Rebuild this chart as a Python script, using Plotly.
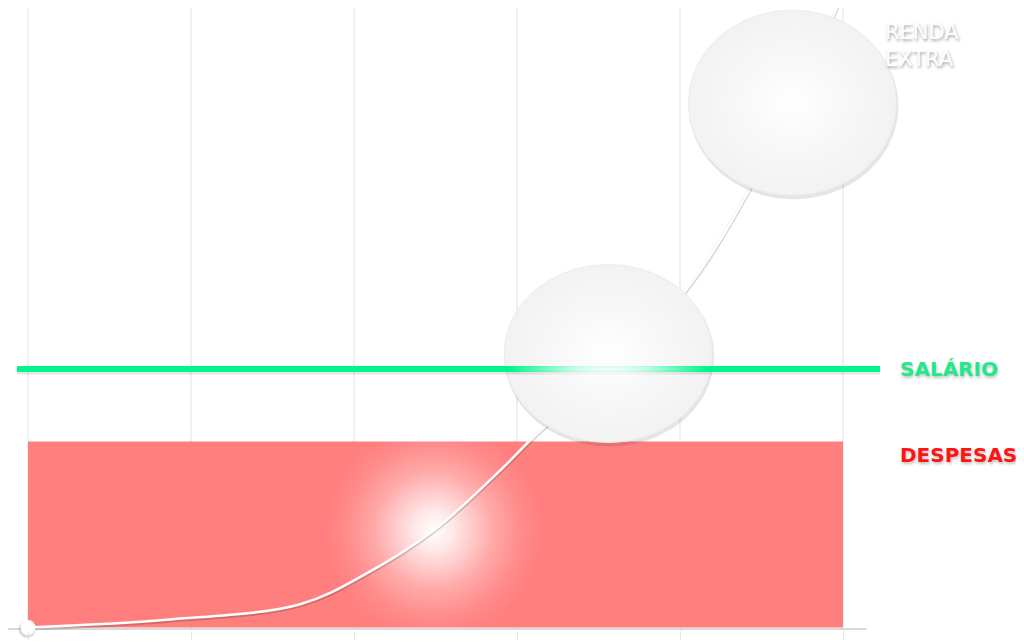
import numpy as np
import plotly.graph_objects as go

# ---------------- data ----------------
grid_ticks = [0, 1, 2, 3, 4, 5]
curve_x = [0, 0.85, 1.67, 2.08, 2.49, 2.9, 3.1, 3.57, 4.03, 4.43, 5.0]
curve_y = [0, 3, 9, 21, 37.6, 61, 73.6, 100, 130, 170, 245]
salario = 100
despesas = 72
glow_x = [2.49]
glow_y = [37.6]
sphere_x = [3.56, 4.69]
sphere_y = [106, 203]
label_salario = "SALÁRIO"
label_despesas = "DESPESAS"
label_renda = "RENDA<br>EXTRA"

# ---------------- geometry helpers ----------------
OFF = 8                     # page body margin of the browser
W, H = 1024 - OFF, 642 - OFF
PX_X = 163.0    # pixels per x unit
PX_Y = 2.585    # pixels per y unit
X0_PAGE = 28    # page pixel of x = 0
Y0_PAGE = 627.5  # page pixel of y = 0
XMIN = (OFF - X0_PAGE) / PX_X
XMAX = XMIN + W / PX_X
PLOT_BOTTOM_PAGE = 630
MB = (642 - PLOT_BOTTOM_PAGE)
YMIN = -(PLOT_BOTTOM_PAGE - Y0_PAGE) / PX_Y
YMAX = (Y0_PAGE - OFF) / PX_Y


def ellipse(cx, cy, rx_px, ry_px, dx_px=0, dy_px=0, n=160):
    t = np.linspace(0, 2 * np.pi, n)
    xs = cx + dx_px / PX_X + (rx_px / PX_X) * np.cos(t)
    ys = cy - dy_px / PX_Y + (ry_px / PX_Y) * np.sin(t)
    return xs, ys


fig = go.Figure()

# expenses block
fig.add_trace(go.Scatter(
    x=[grid_ticks[0], grid_ticks[-1], grid_ticks[-1], grid_ticks[0], grid_ticks[0]],
    y=[0, 0, despesas, despesas, 0],
    fill="toself", fillcolor="#ff7f7f", mode="lines", line=dict(width=0),
    hoverinfo="skip", showlegend=False))

# glow on expenses
for gx, gy in zip(glow_x, glow_y):
    ex, ey = ellipse(gx, gy, 108, 108)
    fig.add_trace(go.Scatter(
        x=ex, y=ey, fill="toself", mode="lines", line=dict(width=0),
        fillgradient=dict(type="radial",
                          colorscale=[[0, "rgba(255,255,255,1)"],
                                      [0.2, "rgba(255,255,255,0.8)"],
                                      [0.55, "rgba(255,255,255,0.33)"],
                                      [0.8, "rgba(255,255,255,0.1)"],
                                      [1, "rgba(255,255,255,0)"]]),
        hoverinfo="skip", showlegend=False))

# axis base line
fig.add_trace(go.Scatter(
    x=[-25 / PX_X, grid_ticks[-1] + 24 / PX_X], y=[YMIN + 1 / PX_Y] * 2,
    mode="lines", line=dict(color="#d9d9d9", width=2),
    hoverinfo="skip", showlegend=False))

# curve shadow + curve
fig.add_trace(go.Scatter(
    x=curve_x, y=[v - 1.2 / PX_Y for v in curve_y], mode="lines",
    line=dict(color="rgba(0,0,0,0.16)", width=4, shape="spline"),
    hoverinfo="skip", showlegend=False))
fig.add_trace(go.Scatter(
    x=curve_x, y=curve_y, mode="lines",
    line=dict(color="#ffffff", width=2.5, shape="spline"),
    hoverinfo="skip", showlegend=False))

# start point
fig.add_trace(go.Scatter(
    x=[curve_x[0] - 1 / PX_X], y=[curve_y[0] - 2 / PX_Y], mode="markers",
    marker=dict(size=17, color="rgba(0,0,0,0.14)", line=dict(width=0)),
    cliponaxis=False, hoverinfo="skip", showlegend=False))
fig.add_trace(go.Scatter(
    x=[curve_x[0]], y=[curve_y[0]], mode="markers",
    marker=dict(size=15, color="#ffffff", line=dict(width=0)),
    cliponaxis=False, hoverinfo="skip", showlegend=False))


def add_sphere(cx, cy, ry):
    sx, sy = ellipse(cx, cy, 105, ry + 1, dx_px=1, dy_px=3)
    fig.add_trace(go.Scatter(
        x=sx, y=sy, fill="toself", fillcolor="rgba(0,0,0,0.10)", mode="lines",
        line=dict(width=0), hoverinfo="skip", showlegend=False))
    ex, ey = ellipse(cx, cy, 104, ry)
    fig.add_trace(go.Scatter(
        x=ex, y=ey, fill="toself", mode="lines",
        line=dict(width=1, color="#ececec"),
        fillgradient=dict(type="radial",
                          colorscale=[[0, "#ffffff"], [0.4, "#f9f9f9"], [1, "#f2f2f2"]]),
        hoverinfo="skip", showlegend=False))


add_sphere(sphere_x[0], sphere_y[0], 89)

# salary line
x_line = [-11 / PX_X, grid_ticks[-1] + 37 / PX_X]
fig.add_trace(go.Scatter(
    x=x_line, y=[salario - 2.5 / PX_Y] * 2, mode="lines",
    line=dict(color="rgba(0,0,0,0.10)", width=6),
    hoverinfo="skip", showlegend=False))
fig.add_trace(go.Scatter(
    x=x_line, y=[salario] * 2, mode="lines",
    line=dict(color="#00f58c", width=6),
    hoverinfo="skip", showlegend=False))

# glow where the curve crosses the salary
gx2, gy2 = ellipse(sphere_x[0], salario, 100, 9)
fig.add_trace(go.Scatter(
    x=gx2, y=gy2, fill="toself", mode="lines", line=dict(width=0),
    fillgradient=dict(type="radial",
                      colorscale=[[0, "rgba(255,255,255,1)"],
                                  [0.4, "rgba(255,255,255,0.75)"],
                                  [1, "rgba(255,255,255,0)"]]),
    hoverinfo="skip", showlegend=False))

add_sphere(sphere_x[1], sphere_y[1], 92.5)

# labels
label_font = dict(family="DejaVu Sans", size=20, weight="bold",
                  shadow="1px 2px 3px rgba(0,0,0,0.25)")
fig.add_annotation(x=grid_ticks[-1] + 55 / PX_X, y=salario, text=label_salario,
                   xanchor="left", yanchor="middle", showarrow=False,
                   font=dict(label_font, color="#1fe98b"))
fig.add_annotation(x=grid_ticks[-1] + 55 / PX_X, y=despesas - 14 / PX_Y, text=label_despesas,
                   xanchor="left", yanchor="middle", showarrow=False,
                   font=dict(label_font, color="#ff1414"))
fig.add_annotation(x=grid_ticks[-1] + 40 / PX_X, y=(Y0_PAGE - 45) / PX_Y, text=label_renda,
                   xanchor="left", yanchor="middle", align="left", showarrow=False,
                   font=dict(family="DejaVu Sans", size=21, color="#ffffff",
                             shadow="1px 2px 3px rgba(0,0,0,0.35)"))

fig.update_layout(
    width=W, height=H,
    margin=dict(l=0, r=0, t=0, b=MB),
    paper_bgcolor="#ffffff", plot_bgcolor="#ffffff",
    hovermode=False, showlegend=False,
    xaxis=dict(range=[XMIN, XMAX], tickvals=grid_ticks, showticklabels=False,
               showgrid=True, gridcolor="#f0f0f0", gridwidth=2,
               ticks="outside", ticklen=9, tickcolor="#e6e6e6", tickwidth=1,
               zeroline=False, showline=False, fixedrange=True),
    yaxis=dict(range=[YMIN, YMAX], showticklabels=False, showgrid=False,
               zeroline=False, showline=False, fixedrange=True),
)

fig.write_html("out.html")
